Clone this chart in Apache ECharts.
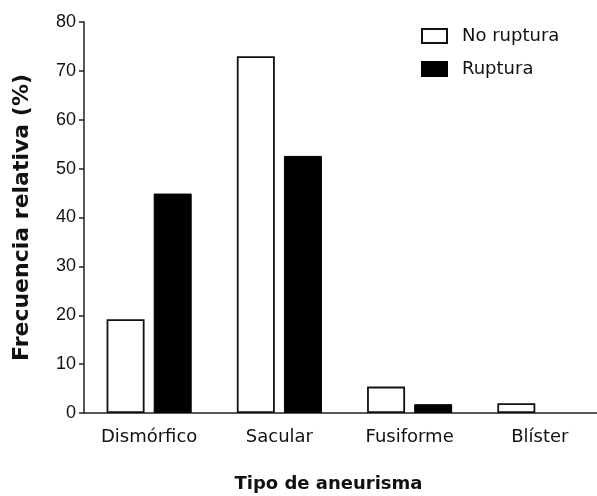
<!DOCTYPE html>
<html><head><meta charset="utf-8">
<script src="https://cdn.jsdelivr.net/npm/echarts@6/dist/echarts.min.js"></script>
<style>html,body{margin:0;padding:0;background:#fff}#c{width:597px;height:496px}</style>
</head><body><div id="c"></div>
<script>
const categories = ['Dismórfico', 'Sacular', 'Fusiforme', 'Blíster'];
const noRuptura = [19.2, 73.0, 5.4, 2.0];
const ruptura = [44.9, 52.6, 1.8, null];
const yTicks = [0, 10, 20, 30, 40, 50, 60, 70, 80];
const seriesNames = ['No ruptura', 'Ruptura'];

const chart = echarts.init(document.getElementById('c'), null, {renderer: 'canvas'});
const font = 'DejaVu Sans, Verdana, sans-serif';
const numFont = 'Liberation Sans, Arial, sans-serif';
chart.setOption({
  animation: false,
  grid: {left: 84, top: 22, right: -8, bottom: 83, containLabel: false, outerBoundsMode: 'none'},
  legend: {
    orient: 'vertical', left: 416, top: 21, itemWidth: 25, itemHeight: 14, itemGap: 13,
    textStyle: {fontFamily: font, fontSize: 18, color: '#111', lineHeight: 20, padding: [0, 0, 0, 10]},
    data: seriesNames.map(n => ({name: n, icon: 'rect'}))
  },
  xAxis: {
    type: 'category', data: categories,
    axisLine: {lineStyle: {color: '#222', width: 1.5}},
    axisTick: {show: false},
    axisLabel: {fontFamily: font, fontSize: 18, color: '#111', margin: 15},
    name: 'Tipo de aneurisma', nameLocation: 'middle', nameGap: 62,
    nameTextStyle: {fontFamily: font, fontSize: 18, fontWeight: 'bold', color: '#111', padding: [0, 32, 0, 0]}
  },
  yAxis: {
    type: 'value', min: yTicks[0], max: yTicks[yTicks.length - 1], interval: 10,
    axisLine: {show: true, lineStyle: {color: '#222', width: 1.5}},
    axisTick: {show: true, length: 5, lineStyle: {color: '#222', width: 1.5}},
    axisLabel: {fontFamily: numFont, fontSize: 18, color: '#111', margin: 8},
    splitLine: {show: false},
    name: 'Frecuencia relativa (%)', nameLocation: 'middle', nameGap: 51,
    nameTextStyle: {fontFamily: font, fontSize: 22, fontWeight: 'bold', color: '#111'}
  },
  series: [
    {name: seriesNames[0], type: 'bar', data: noRuptura, barWidth: 38, barGap: '24%',
     itemStyle: {color: '#fff', borderColor: '#111', borderWidth: 1.8}},
    {name: seriesNames[1], type: 'bar', data: ruptura, barWidth: 38,
     itemStyle: {color: '#000', borderColor: '#000', borderWidth: 1}}
  ]
});
</script></body></html>
